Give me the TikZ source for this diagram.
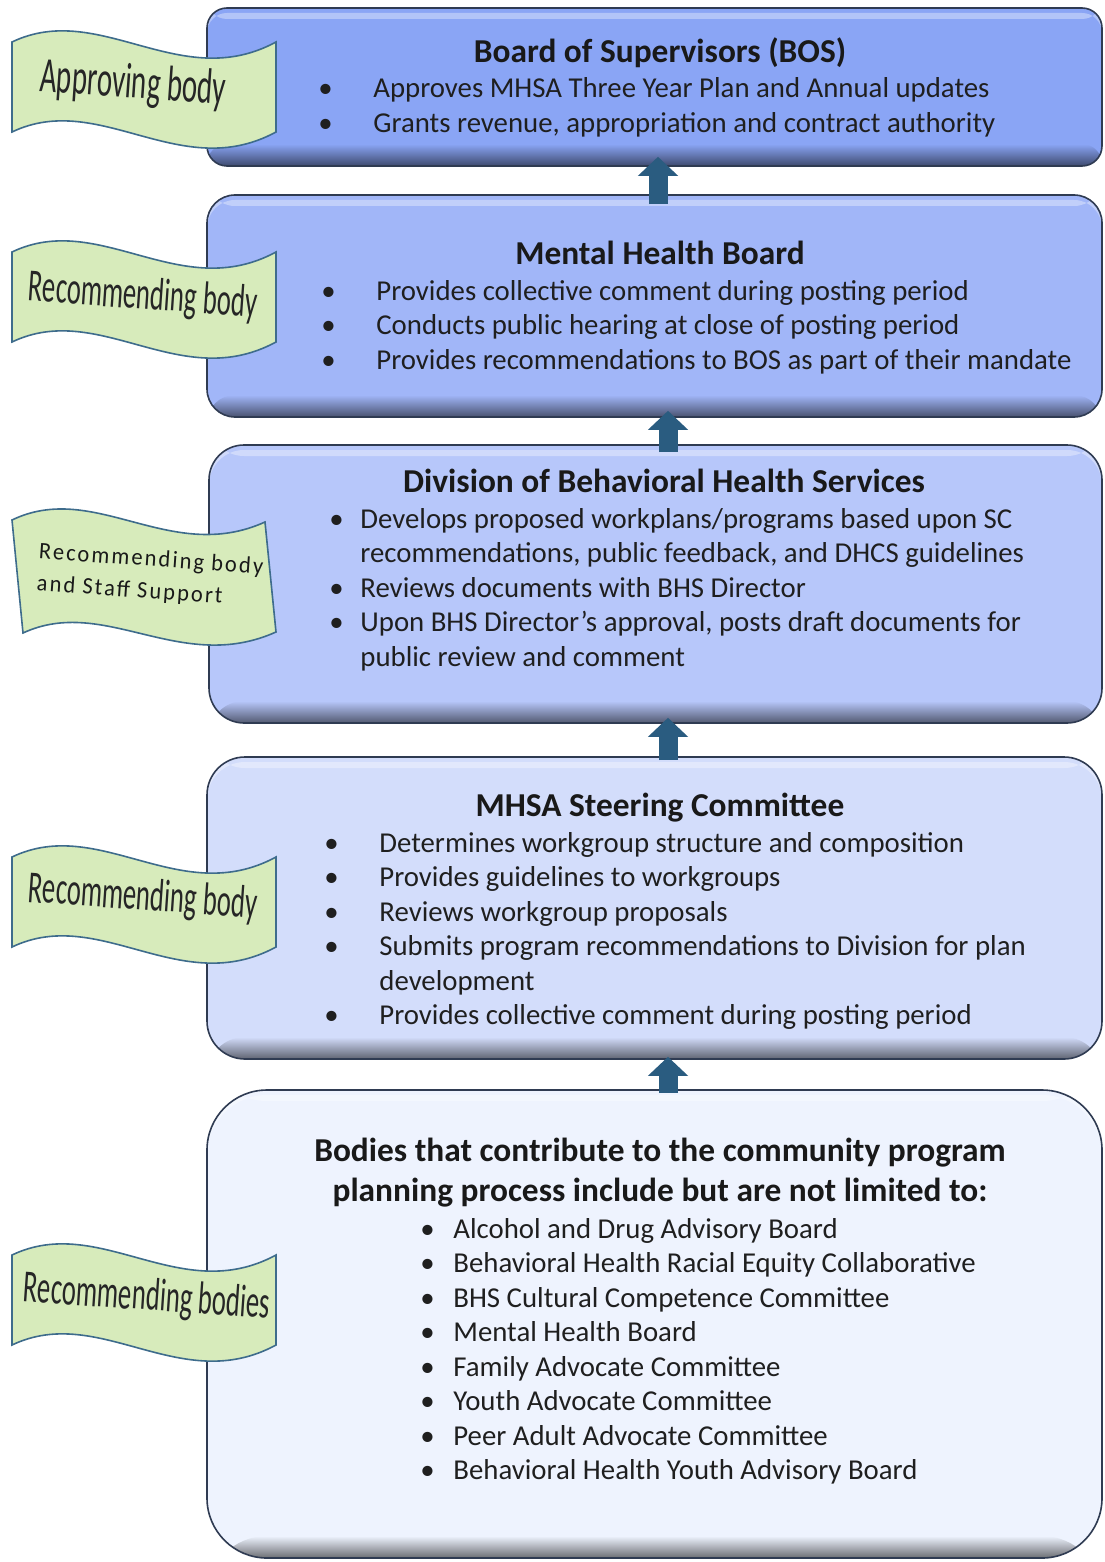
\documentclass[tikz,border=0pt]{standalone}
\usepackage{fontspec}
\setmainfont{Carlito}
\newfontfamily\bandierafont[FakeStretch=0.58]{Carlito}
\newfontfamily\bandierafontb[FakeStretch=0.95, LetterSpace=9]{Carlito}
\usetikzlibrary{arrows.meta, fit}
\definecolor{bordo}{HTML}{2F3B52}
\definecolor{bosC}{HTML}{8AA5F5}
\definecolor{mhbC}{HTML}{A1B6F8}
\definecolor{dbhsC}{HTML}{B7C7FA}
\definecolor{mscC}{HTML}{D3DDFB}
\definecolor{cppC}{HTML}{EEF3FE}
\definecolor{verde}{HTML}{D7EBBB}
\definecolor{verdeBordo}{HTML}{3E6C8C}
\definecolor{frecciaC}{HTML}{2A5C80}
\newcommand{\voce}[2]{\makebox[#1][l]{\textbullet}#2}
\newcommand{\bandiera}[2]{
\begin{scope}[shift={(#1,#2)}]
\draw[flag] (0,0) .. controls (88,-42) and (168,52) .. (264,0) -- (264,90) .. controls (168,142) and (88,48) .. (0,90) -- cycle;
\end{scope}
}
\tikzset{
    riquadro/.style 2 args={draw=bordo, line width=0.8pt, fill=#1, rounded corners=#2, inner sep=0pt,
        path picture={
            \fill[white, opacity=.35] ([yshift=-2.5pt]path picture bounding box.north west) rectangle ([yshift=-5.5pt]path picture bounding box.north east);
            \shade[top color=#1, bottom color=#1!45!black] ([yshift=11pt]path picture bounding box.south west) rectangle (path picture bounding box.south east);
        }},
    freccia/.style={draw=frecciaC, line width=9.5pt, -{Triangle[width=19.5pt,length=9.5pt]}},
    flag/.style={fill=verde, draw=verdeBordo, line width=0.8pt},
    titolo/.style={anchor=base, inner sep=0pt, text=black!90, font=\fontsize{16.7}{20}\selectfont\bfseries},
    % ancora sulla linea di base dell'ultima riga
    lista/.style={anchor=base west, inner sep=0pt, align=left, text=black!88, font=\fontsize{14.4}{17.25}\selectfont},
    testoBandiera/.style={inner sep=0pt, text=black!85, font=\bandierafont\fontsize{23}{26}\selectfont},
    testoPiccolo/.style={inner sep=0pt, align=left, text=black!90, font=\bandierafontb\fontsize{11.8}{16}\selectfont}
}
\begin{document}
\begin{tikzpicture}[x=0.5pt, y=-0.5pt]
    % Parametri
    \useasboundingbox (0,0) rectangle (1104,1562);
    \coordinate (ax1) at (658,0);
    \coordinate (ax2) at (668,0);
    % Riquadri
    \node[riquadro={bosC}{10pt}, fit={(207,8) (1102,166)}] (bos) {};
    \node[riquadro={mhbC}{14pt}, fit={(207,195) (1102,417)}] (mhb) {};
    \node[riquadro={dbhsC}{17.5pt}, fit={(209,445) (1102,723)}] (dbhs) {};
    \node[riquadro={mscC}{19pt}, fit={(207,757) (1102,1059)}] (msc) {};
    \node[riquadro={cppC}{30pt}, fit={(207,1090) (1102,1558)}] (cpp) {};
    % Frecce
    \draw[freccia, shorten <=-5pt, shorten >=-5pt] (mhb.north -| ax1) -- (bos.south -| ax1);
    \draw[freccia, shorten <=-4pt, shorten >=-3.5pt] (dbhs.north -| ax2) -- (mhb.south -| ax2);
    \draw[freccia, shorten <=-2pt, shorten >=-3pt] (msc.north -| ax2) -- (dbhs.south -| ax2);
    \draw[freccia, shorten <=-2pt, shorten >=-1.5pt] (cpp.north -| ax2) -- (msc.south -| ax2);
    % Testi
    \node[titolo] (bos-t) at (660,63) {Board of Supervisors (BOS)};
    \node[lista] (bos-l) at (318,132.5) {\voce{27.5pt}{Approves MHSA Three Year Plan and Annual updates}\\
        \voce{27.5pt}{Grants revenue, appropriation and contract authority}};
    \node[titolo] (mhb-t) at (660,264) {Mental Health Board};
    \node[lista] (mhb-l) at (321,369) {\voce{27.5pt}{Provides collective comment during posting period}\\
        \voce{27.5pt}{Conducts public hearing at close of posting period}\\
        \voce{27.5pt}{Provides recommendations to BOS as part of their mandate}};
    \node[titolo] (dbhs-t) at (664,492) {Division of Behavioral Health Services};
    \node[lista] (dbhs-l) at (329,666) {\voce{15.5pt}{Develops proposed workplans/programs based upon SC}\\
        \hspace*{15.5pt}recommendations, public feedback, and DHCS guidelines\\
        \voce{15.5pt}{Reviews documents with BHS Director}\\
        \voce{15.5pt}{Upon BHS Director’s approval, posts draft documents for}\\
        \hspace*{15.5pt}public review and comment};
    \node[titolo] (msc-t) at (660,816) {MHSA Steering Committee};
    \node[lista] (msc-l) at (324,1024.5) {\voce{27.5pt}{Determines workgroup structure and composition}\\
        \voce{27.5pt}{Provides guidelines to workgroups}\\
        \voce{27.5pt}{Reviews workgroup proposals}\\
        \voce{27.5pt}{Submits program recommendations to Division for plan}\\
        \hspace*{27.5pt}development\\
        \voce{27.5pt}{Provides collective comment during posting period}};
    \node[titolo, align=center] (cpp-t) at (660,1201) {Bodies that contribute to the community program\\
        planning process include but are not limited to:};
    \node[lista] (cpp-l) at (420,1479.5) {\voce{16.5pt}{Alcohol and Drug Advisory Board}\\
        \voce{16.5pt}{Behavioral Health Racial Equity Collaborative}\\
        \voce{16.5pt}{BHS Cultural Competence Committee}\\
        \voce{16.5pt}{Mental Health Board}\\
        \voce{16.5pt}{Family Advocate Committee}\\
        \voce{16.5pt}{Youth Advocate Committee}\\
        \voce{16.5pt}{Peer Adult Advocate Committee}\\
        \voce{16.5pt}{Behavioral Health Youth Advisory Board}};
    % Bandiere
    \bandiera{12}{42}
    \bandiera{12}{252}
    \draw[flag] (12,520) .. controls (95,480) and (170,565) .. (265,522) -- (276,632) .. controls (180,675) and (105,595) .. (23,633) -- cycle;
    \bandiera{12}{857}
    \bandiera{12}{1255}
    \node[testoBandiera, rotate=-4, font=\bandierafont\fontsize{25}{28}\selectfont] (app) at (133,85) {Approving body};
    \node[testoBandiera, rotate=-4] (rec1) at (143,297) {Recommending body};
    \node[testoPiccolo, rotate=-4] (rec2) at (150,576) {Recommending body\\and Staff Support};
    \node[testoBandiera, rotate=-4] (rec3) at (143,898) {Recommending body};
    \node[testoBandiera, rotate=-4] (rec4) at (147,1298) {Recommending bodies};
\end{tikzpicture}
\end{document}
